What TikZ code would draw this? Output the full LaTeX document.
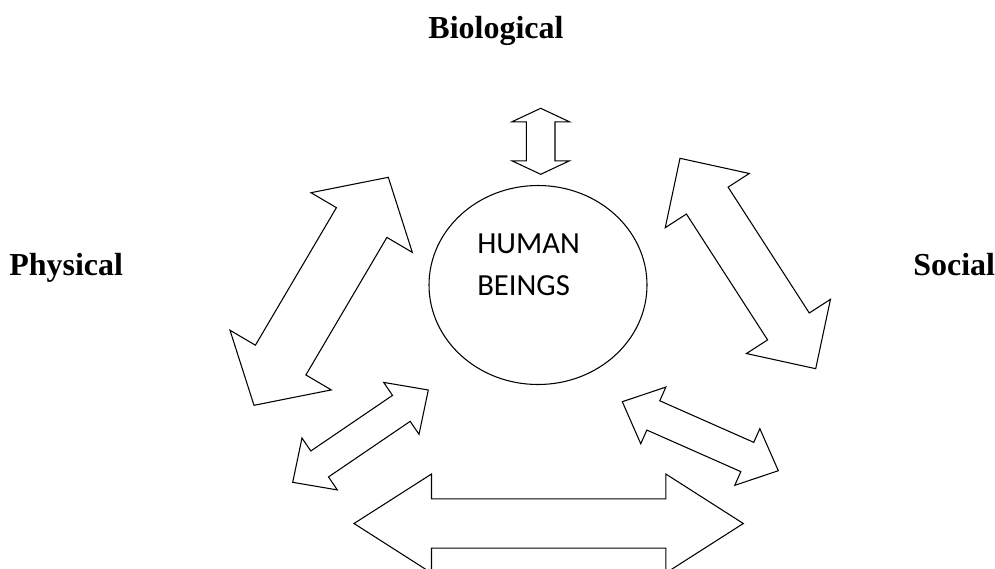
\documentclass[tikz,border=0pt]{standalone}
\usepackage{fontspec}
\setmainfont{Liberation Serif}
\newfontfamily\calibrifont{Carlito}
\usetikzlibrary{calc,shapes.geometric}
\tikzset{
  blockarrow/.style={draw=black,line width=0.8pt,line join=miter,fill=white},
  label/.style={font=\fontsize{24}{28}\selectfont\bfseries,inner sep=0pt},
  inner/.style={font=\calibrifont\fontsize{23}{28}\selectfont,inner sep=0pt,anchor=base west},
}
% #1 name, #2 tip A, #3 tip B, #4 head length, #5 head half width, #6 shaft half width (px)
\newcommand{\dblarr}[6]{%
  \coordinate (#1a) at #2;
  \coordinate (#1b) at #3;
  \coordinate (#1ha) at ($(#1a)!#4*0.75pt!(#1b)$);
  \coordinate (#1hb) at ($(#1b)!#4*0.75pt!(#1a)$);
  \draw[blockarrow] (#1a)
    -- ($(#1ha)!#5*0.75pt!90:(#1a)$)
    -- ($(#1ha)!#6*0.75pt!90:(#1a)$)
    -- ($(#1hb)!#6*0.75pt!-90:(#1b)$)
    -- ($(#1hb)!#5*0.75pt!-90:(#1b)$)
    -- (#1b)
    -- ($(#1hb)!#5*0.75pt!90:(#1b)$)
    -- ($(#1hb)!#6*0.75pt!90:(#1b)$)
    -- ($(#1ha)!#6*0.75pt!-90:(#1a)$)
    -- ($(#1ha)!#5*0.75pt!-90:(#1a)$)
    -- cycle;
}
\begin{document}
\begin{tikzpicture}[x=0.75pt,y=-0.75pt]
\useasboundingbox (0,0) rectangle (995,568);
\clip (0,0) rectangle (995,568);
\fill[white] (0,0) rectangle (995,568);

% labels
\node[label,anchor=base] (bio) at (496,38) {Biological};
\node[label,anchor=base west] (phys) at (9,275) {Physical};
\node[label,anchor=base west] (soc) at (913,275) {Social};

% central ellipse
\node[draw=black,line width=0.8pt,ellipse,minimum width=218*0.75pt,minimum height=199*0.75pt,inner sep=0pt] (human) at (538,285) {};
\node[inner] (h1) at (477,253) {HUMAN};
\node[inner] (h2) at (477,295) {BEINGS};

% double block arrows
\dblarr{top}{(540.7,108.3)}{(540.7,174.3)}{13.5}{28.8}{14.3}
\dblarr{lft}{(388.3,177.3)}{(254,405.3)}{52.5}{58.8}{29.3}
\dblarr{rgt}{(680,158.3)}{(815.7,368.7)}{50.3}{50}{24.8}
\dblarr{ll}{(428.3,390)}{(292.7,482.3)}{32.6}{31.4}{15.7}
\dblarr{lr}{(622.3,401.7)}{(778.3,470.7)}{33.9}{31}{16}
\dblarr{bot}{(354,523.5)}{(743.3,523.5)}{77.5}{49.5}{24.7}
\end{tikzpicture}
\end{document}
